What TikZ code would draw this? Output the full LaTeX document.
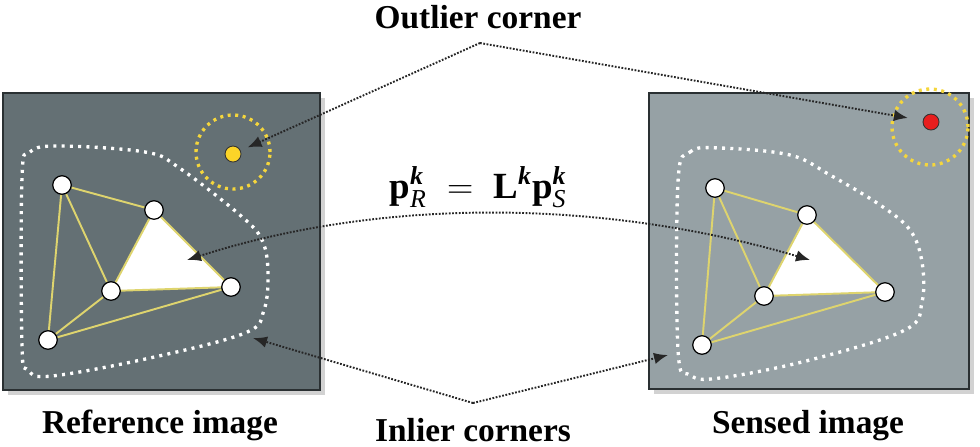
\documentclass[tikz,border=0pt]{standalone}
\usepackage{amsmath}
\usepackage{fontspec}
\setmainfont{Liberation Serif}
\usetikzlibrary{arrows.meta}
\definecolor{refgray}{RGB}{100,112,116}
\definecolor{sengray}{RGB}{150,161,165}
\definecolor{edgegray}{RGB}{42,48,50}
\definecolor{meshyellow}{RGB}{222,212,110}
\definecolor{ringyellow}{RGB}{245,214,60}
\definecolor{dotyellow}{RGB}{252,212,40}
\definecolor{dotred}{RGB}{232,30,30}
\pgfdeclarelayer{boxes}
\pgfdeclarelayer{mesh}
\pgfsetlayers{boxes,mesh,main}
\tikzset{
  imgbox/.style={draw=edgegray,line width=1.3pt},
  corner/.style={circle,draw=black,fill=white,line width=0.7pt,minimum size=3.7mm,inner sep=0pt},
  outdot/.style={circle,draw=black!80,line width=0.5pt,minimum size=3.2mm,inner sep=0pt},
  meshline/.style={meshyellow,line width=1.1pt},
  hull/.style={white,line width=1.9pt,dash pattern=on 1.7pt off 3pt},
  ring/.style={ringyellow,line width=1.9pt,dash pattern=on 1.7pt off 2.6pt},
  pointer/.style={black!85,line width=1.1pt,dash pattern=on 1pt off 0.9pt},
  tip/.style={-{Latex[length=2.8mm,width=2.3mm]}},
  caption/.style={font=\bfseries\fontsize{19}{22}\selectfont,anchor=base,inner sep=0pt},
}
% image background with its shadow: x1 y1 x2 y2 colour
\newcommand{\imgbg}[5]{%
  \fill[black!25,opacity=.7] (#1+5,#2+5) rectangle (#3+5,#4+5);
  \fill[#5] (#1,#2) rectangle (#3,#4);
  \draw[imgbox] (#1,#2) rectangle (#3,#4);}
% triangle and yellow edges between the five corners a..e of prefix #1
\newcommand{\mesh}[1]{%
  \fill[white] (#1b.center) -- (#1c.center) -- (#1d.center) -- cycle;
  \foreach \u/\v in {a/b,a/c,a/e,b/c,b/d,c/d,e/c,e/d}
    \draw[meshline] (#1\u) -- (#1\v);}
\newcommand{\kk}{\text{\bfseries\itshape k}}

\begin{document}
\begin{tikzpicture}[x=0.2mm,y=-0.2mm]
\useasboundingbox (0,0) rectangle (980,446);
\begin{pgfonlayer}{boxes}
\imgbg{3}{93}{320}{390}{refgray}
\imgbg{649}{93}{969}{389}{sengray}
\draw[hull] plot[smooth cycle,tension=0.6] coordinates {(22,178) (30,152) (60,146) (145,152) (178,167) (240,215) (262,240) (268,272) (264,310) (245,333) (150,358) (52,376) (28,370) (22,345)};
\draw[hull] plot[smooth cycle,tension=0.6] coordinates {(678,182) (690,152) (720,148) (790,155) (830,175) (880,205) (910,230) (922,262) (922,302) (905,330) (810,360) (720,378) (690,375) (678,350)};
\draw[ring] (233,152) circle[radius=7.4mm];
\draw[ring] (930,127) circle[radius=7.6mm];
\end{pgfonlayer}

% reference corners
\node[corner] (ra) at (62,185) {};
\node[corner] (rb) at (154,210) {};
\node[corner] (rc) at (111,291) {};
\node[corner] (rd) at (231,287) {};
\node[corner] (re) at (48,340) {};
% sensed corners
\node[corner] (sa) at (715,188) {};
\node[corner] (sb) at (807,215) {};
\node[corner] (sc) at (764,296) {};
\node[corner] (sd) at (885,292) {};
\node[corner] (se) at (702,345) {};
\begin{pgfonlayer}{mesh}
\mesh{r}
\mesh{s}
\end{pgfonlayer}

\node[outdot,fill=dotyellow] (refout) at (233,154) {};
\node[outdot,fill=dotred] (senout) at (931,122) {};

\node[caption] (outlbl) at (478,28) {Outlier corner};
\node[caption] (reflbl) at (160,433) {Reference image};
\node[caption] (senlbl) at (808,433) {Sensed image};
\node[caption] (inlbl) at (473,441) {Inlier corners};
\node[font=\bfseries\fontsize{21}{24}\selectfont,anchor=base,inner sep=0pt] (rel) at (478,198)
  {$\mathbf{p}_{\mathit{R}}^{\kk}\;=\;\mathbf{L}^{\kk}\mathbf{p}_{\mathit{S}}^{\kk}$};

\coordinate (outpeak) at (480,43);
\coordinate (inpeak) at (473,403);
\coordinate (reftri) at (187,260);
\coordinate (sentri) at (810,260);
\coordinate (refhull) at (253,338);
\coordinate (senhull) at (668,355);

\draw[pointer,tip,shorten >=1.5mm] (outpeak) -- (refout);
\draw[pointer,tip,shorten >=3mm] (outpeak) -- (senout);
\draw[pointer,{Latex[length=2.8mm,width=2.3mm]}-{Latex[length=2.8mm,width=2.3mm]}] (reftri) .. controls (380,198) and (600,198) .. (sentri);
\draw[pointer,tip] (inpeak) -- (refhull);
\draw[pointer,tip] (inpeak) -- (senhull);
\end{tikzpicture}
\end{document}
